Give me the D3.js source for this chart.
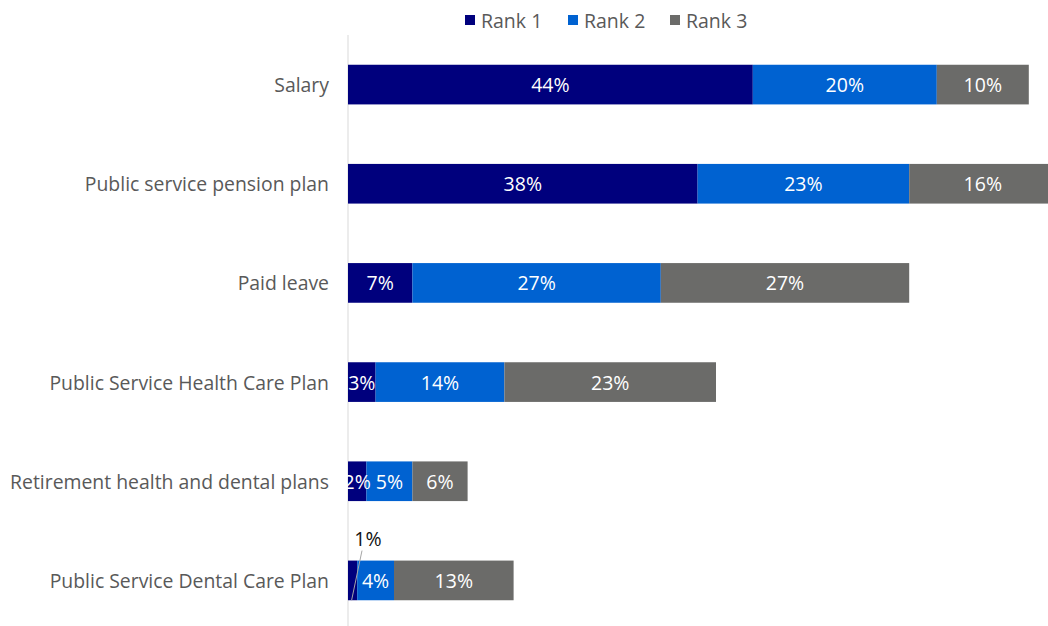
<!DOCTYPE html>
<html>
<head>
<meta charset="utf-8">
<script src="https://cdn.jsdelivr.net/npm/d3@7"></script>
<style>
  html, body { margin: 0; padding: 0; background: #fff; }
  svg { display: block; font-family: "Open Sans", "Liberation Sans", sans-serif; }
</style>
</head>
<body>
<svg id="chart" width="1048" height="626"></svg>
<script>
// Share of respondents ranking each benefit 1st, 2nd and 3rd (%)
const categories = [
  "Salary",
  "Public service pension plan",
  "Paid leave",
  "Public Service Health Care Plan",
  "Retirement health and dental plans",
  "Public Service Dental Care Plan"
];
const seriesNames = ["Rank 1", "Rank 2", "Rank 3"];
const rank1 = [44, 38, 7, 3, 2, 1];
const rank2 = [20, 23, 27, 14, 5, 4];
const rank3 = [10, 16, 27, 23, 6, 13];
const colors = ["#00007d", "#0062d1", "#6b6b69"];

const rows = categories.map((c, i) => ({ category: c, "Rank 1": rank1[i], "Rank 2": rank2[i], "Rank 3": rank3[i] }));
const stacked = d3.stack().keys(seriesNames)(rows);

const svg = d3.select("#chart");
const x0 = 348;
const x = d3.scaleLinear().domain([0, 76]).range([x0, x0 + 76 * 9.2]);
const y = d3.scaleBand().domain(categories).range([35, 630]).paddingInner(0.6).paddingOuter(0.3);

// vertical category axis line
svg.append("line")
  .attr("x1", x0).attr("x2", x0)
  .attr("y1", 35).attr("y2", 626)
  .attr("stroke", "#d9d9d9").attr("stroke-width", 1);

// stacked bars
const layer = svg.selectAll("g.layer").data(stacked).join("g")
  .attr("class", "layer")
  .attr("fill", (d, i) => colors[i]);

layer.selectAll("rect").data(d => d).join("rect")
  .attr("x", d => x(d[0]))
  .attr("y", d => y(d.data.category))
  .attr("width", d => x(d[1]) - x(d[0]))
  .attr("height", y.bandwidth());

// value labels
stacked.forEach((s, si) => {
  s.forEach(d => {
    const v = d[1] - d[0];
    const cy = y(d.data.category) + y.bandwidth() / 2;
    if (v <= 1) {
      // tiny segment: label above with a leader line
      const lx = x(d[0]) + 20;
      const ly = y(d.data.category) - 22;
      svg.append("line")
        .attr("x1", x((d[0] + d[1]) / 2) - 1).attr("y1", y(d.data.category) + y.bandwidth())
        .attr("x2", lx - 6).attr("y2", ly + 12)
        .attr("stroke", "#a6a6a6").attr("stroke-width", 1);
      svg.append("text")
        .attr("x", lx).attr("y", ly)
        .attr("text-anchor", "middle").attr("dominant-baseline", "central")
        .attr("font-size", 19.5).attr("fill", "#111")
        .text(v + "%");
    } else {
      svg.append("text")
        .attr("x", (x(d[0]) + x(d[1])) / 2).attr("y", cy)
        .attr("text-anchor", "middle").attr("dominant-baseline", "central")
        .attr("font-size", 19.5).attr("fill", "#fff")
        .text(v + "%");
    }
  });
});

// category labels
svg.selectAll("text.cat").data(categories).join("text")
  .attr("class", "cat")
  .attr("x", x0 - 19)
  .attr("y", d => y(d) + y.bandwidth() / 2)
  .attr("text-anchor", "end").attr("dominant-baseline", "central")
  .attr("font-size", 19.4).attr("fill", "#595959")
  .text(d => d);

// legend
const legendX = [465, 568, 670];
const legend = svg.selectAll("g.legend").data(seriesNames).join("g")
  .attr("class", "legend")
  .attr("transform", (d, i) => `translate(${legendX[i]},20)`);
legend.append("rect").attr("x", 0).attr("y", -5).attr("width", 10).attr("height", 10)
  .attr("fill", (d, i) => colors[i]);
legend.append("text").attr("x", 16).attr("y", 0)
  .attr("dominant-baseline", "central").attr("font-size", 19.5).attr("fill", "#595959")
  .text(d => d);
</script>
</body>
</html>
